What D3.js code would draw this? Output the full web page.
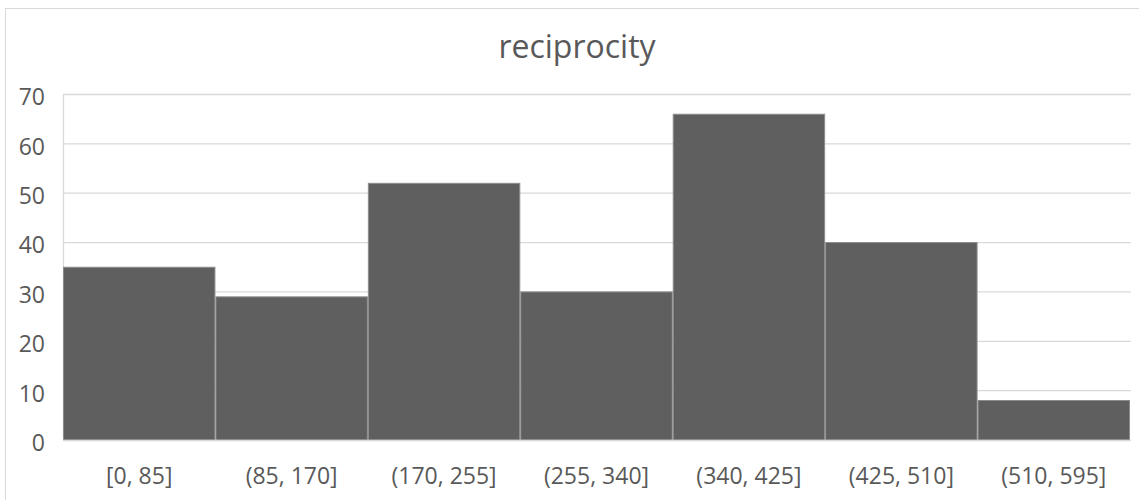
<!DOCTYPE html>
<html>
<head>
<meta charset="utf-8">
<script src="https://cdn.jsdelivr.net/npm/d3@7"></script>
<style>
  html, body { margin: 0; padding: 0; background: #fff; }
  svg { display: block; font-family: "Open Sans", "Noto Sans", sans-serif; }
</style>
</head>
<body>
<svg id="chart" width="1139" height="500"></svg>
<script>
// Histogram of reciprocity, binned in steps of 85
const categories = ["[0, 85]", "(85, 170]", "(170, 255]", "(255, 340]", "(340, 425]", "(425, 510]", "(510, 595]"];
const counts = [35, 29, 52, 30, 66, 40, 8];
const yTicks = [0, 10, 20, 30, 40, 50, 60, 70];
const title = "reciprocity";

const FONT = '"Open Sans", "Noto Sans", sans-serif';
const svg = d3.select("#chart");
const W = 1139, H = 500;
const margin = { left: 63, top: 94.5 };

// outer chart frame
svg.append("rect")
  .attr("x", 5.5).attr("y", 8.5)
  .attr("width", W + 10).attr("height", H + 10)
  .attr("fill", "#fff").attr("stroke", "#d9d9d9").attr("stroke-width", 1);

const x = d3.scaleBand()
  .domain(categories)
  .range([margin.left, 1130])
  .paddingInner(0).paddingOuter(0);

const y = d3.scaleLinear()
  .domain([0, 70])
  .range([440, margin.top]);

// gridlines
svg.append("g")
  .selectAll("line")
  .data(yTicks.filter(d => d > 0))
  .join("line")
  .attr("x1", margin.left).attr("x2", 1131)
  .attr("y1", d => y(d)).attr("y2", d => y(d))
  .attr("stroke", "#d9d9d9").attr("stroke-width", 1.3);

// y axis
const yAxis = d3.axisLeft(y).tickValues(yTicks).tickSize(0).tickPadding(18);
const gy = svg.append("g")
  .attr("transform", `translate(${margin.left},0)`)
  .call(yAxis)
  .attr("font-family", FONT).attr("font-size", 23);
gy.select(".domain").attr("stroke", "#d9d9d9").attr("stroke-width", 1.3);
gy.selectAll("text")
  .attr("fill", "#595959")
  .attr("dy", "0.45em");

// bars
svg.append("g")
  .selectAll("rect")
  .data(categories.map((c, i) => ({ c, v: counts[i] })))
  .join("rect")
  .attr("x", d => x(d.c) + 0.5)
  .attr("y", d => y(d.v))
  .attr("width", x.bandwidth() - 1)
  .attr("height", d => y(0) - y(d.v))
  .attr("fill", "#5f5f5f")
  .attr("stroke", "#8c8c8c")
  .attr("stroke-width", 1);

// x axis
const xAxis = d3.axisBottom(x).tickSize(0).tickPadding(28);
const gx = svg.append("g")
  .attr("transform", `translate(0,440)`)
  .call(xAxis)
  .attr("font-family", FONT).attr("font-size", 23);
gx.select(".domain").attr("stroke", "#d9d9d9").attr("stroke-width", 1.3)
  .attr("d", `M${margin.left},0.5H1131`);
gx.selectAll("text")
  .attr("fill", "#595959");

// title
svg.append("text")
  .attr("x", 577).attr("y", 58)
  .attr("text-anchor", "middle")
  .attr("fill", "#595959")
  .attr("font-family", FONT)
  .attr("font-size", 32)
  .text(title);
</script>
</body>
</html>
